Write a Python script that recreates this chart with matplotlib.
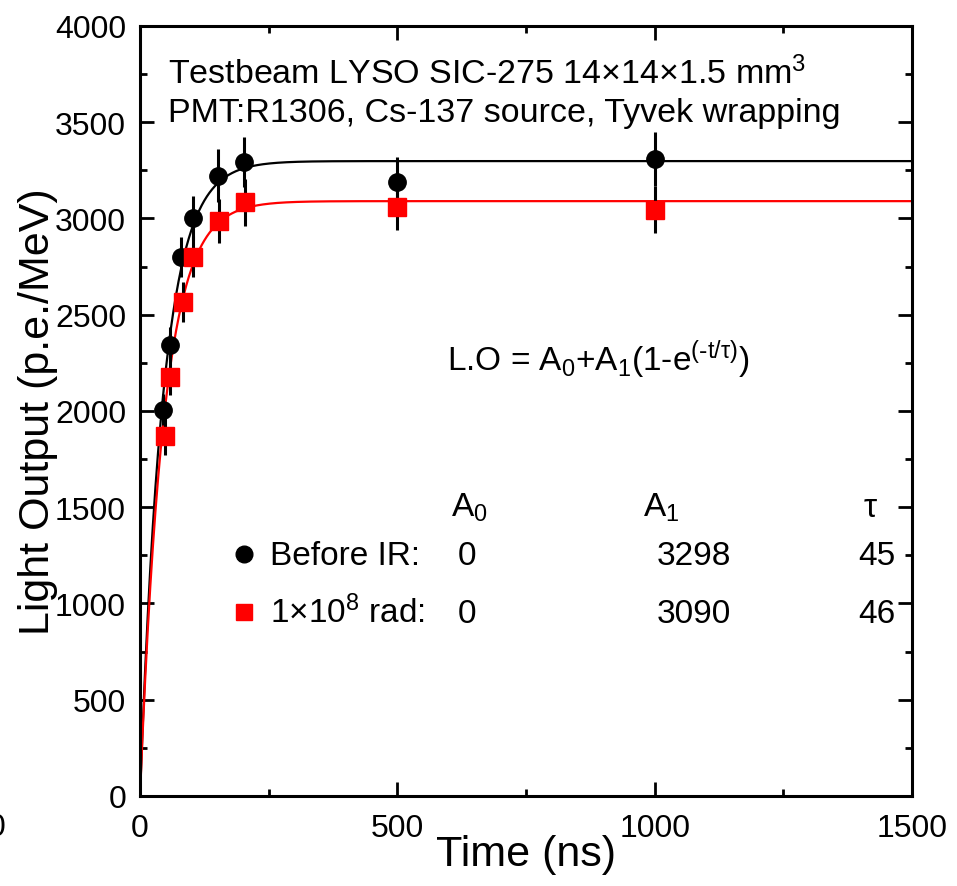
import numpy as np
import matplotlib.pyplot as plt

plt.rcParams['font.family'] = ['Liberation Sans', 'DejaVu Sans']
plt.rcParams['mathtext.default'] = 'regular'

# measured light output vs integration gate
t_before = [45, 58, 80, 103, 152, 202, 500, 1000]
lo_before = [2007, 2344, 2800, 3003, 3222, 3292, 3191, 3309]
err_before = [80, 92, 104, 115, 139, 130, 128, 140]

t_irr = [48, 58, 83, 103, 153, 204, 500, 1000]
lo_irr = [1869, 2178, 2565, 2802, 2987, 3084, 3058, 3046]
err_irr = [100, 95, 103, 106, 114, 123, 116, 121]

# fit parameters: L.O = A0 + A1(1 - exp(-t/tau))
fit_labels = ["Before IR:", "1×10$^8$ rad:"]
fit_a0 = [0, 0]
fit_a1 = [3298, 3090]
fit_tau = [45, 46]

fig = plt.figure(figsize=(9.57, 8.87), dpi=100)
ax = fig.add_axes([0.1463, 0.1015, 0.8067, 0.8681])

tt = np.linspace(0, 1500, 1501)
ax.plot(tt, fit_a0[0] + fit_a1[0] * (1 - np.exp(-tt / fit_tau[0])), color='black', lw=1.6, zorder=2)
ax.plot(tt, fit_a0[1] + fit_a1[1] * (1 - np.exp(-tt / fit_tau[1])), color='red', lw=1.6, zorder=2)

ax.errorbar(t_before, lo_before, yerr=err_before, fmt='none', ecolor='black', elinewidth=2.2, zorder=3)
ax.errorbar(t_irr, lo_irr, yerr=err_irr, fmt='none', ecolor='black', elinewidth=2.2, zorder=3)
ax.plot(t_before, lo_before, 'o', color='black', ms=12.5, zorder=4)
ax.plot(t_irr, lo_irr, 's', color='red', ms=12.5, zorder=5)

ax.set_xlim(0, 1500)
ax.set_ylim(0, 4000)
ax.set_xticks([0, 500, 1000, 1500])
ax.set_xticks([250, 750, 1250], minor=True)
ax.set_yticks(range(0, 4001, 500))
ax.set_yticks(range(250, 4000, 500), minor=True)
ax.tick_params(which='both', direction='in', top=True, right=True, labelsize=23, width=2)
ax.tick_params(which='major', length=10)
ax.tick_params(which='minor', length=5)
ax.tick_params(axis='x', pad=12)
ax.tick_params(axis='y', pad=10)
for sp in ax.spines.values():
    sp.set_linewidth(2.2)

ax.set_xlabel("Time (ns)", fontsize=31, labelpad=-6)
ax.set_ylabel("Light Output (p.e./MeV)", fontsize=31)
ax.yaxis.set_label_coords(-0.106, 0.5)


def axpos(px, py):
    return (px - 140) / 772, (797 - py) / 770


fs = 24
ax.text(*axpos(168, 84), "Testbeam LYSO SIC-275 14×14×1.5 mm$^3$", transform=ax.transAxes,
        fontsize=fs + 0.5, va='baseline', ha='left')
ax.text(*axpos(168, 122), "PMT:R1306, Cs-137 source, Tyvek wrapping", transform=ax.transAxes,
        fontsize=fs + 0.5, va='baseline', ha='left')
ax.text(*axpos(447, 371), r"L.O = A$_0$+A$_1$(1-e$^{(\text{-}t/τ)}$)", transform=ax.transAxes,
        fontsize=fs, va='baseline', ha='left')

# fit table
ax.text(*axpos(451, 517), "A$_0$", transform=ax.transAxes, fontsize=fs, va='baseline', ha='left')
ax.text(*axpos(643, 517), "A$_1$", transform=ax.transAxes, fontsize=fs, va='baseline', ha='left')
ax.text(*axpos(864, 517), "τ", transform=ax.transAxes, fontsize=fs, va='baseline', ha='left')

row_y = [565, 623]
marker_y = [555, 613]
markers = [('o', 'black'), ('s', 'red')]
for i in range(2):
    mx, my = axpos(244, marker_y[i])
    ax.plot([mx], [my], markers[i][0], color=markers[i][1], ms=12, transform=ax.transAxes, clip_on=False)
    ax.text(*axpos(270, row_y[i]), fit_labels[i], transform=ax.transAxes, fontsize=fs, va='baseline', ha='left')
    ax.text(*axpos(467, row_y[i]), str(fit_a0[i]), transform=ax.transAxes, fontsize=fs, va='baseline', ha='center')
    ax.text(*axpos(657, row_y[i]), str(fit_a1[i]), transform=ax.transAxes, fontsize=fs, va='baseline', ha='left')
    ax.text(*axpos(858, row_y[i]), str(fit_tau[i]), transform=ax.transAxes, fontsize=fs, va='baseline', ha='left')

# leftover label from neighbouring panel at the left edge
fig.text(-0.004, 1 - 828 / 887, "0", fontsize=23, ha='center', va='center')

fig.savefig("out.png", dpi=100)
